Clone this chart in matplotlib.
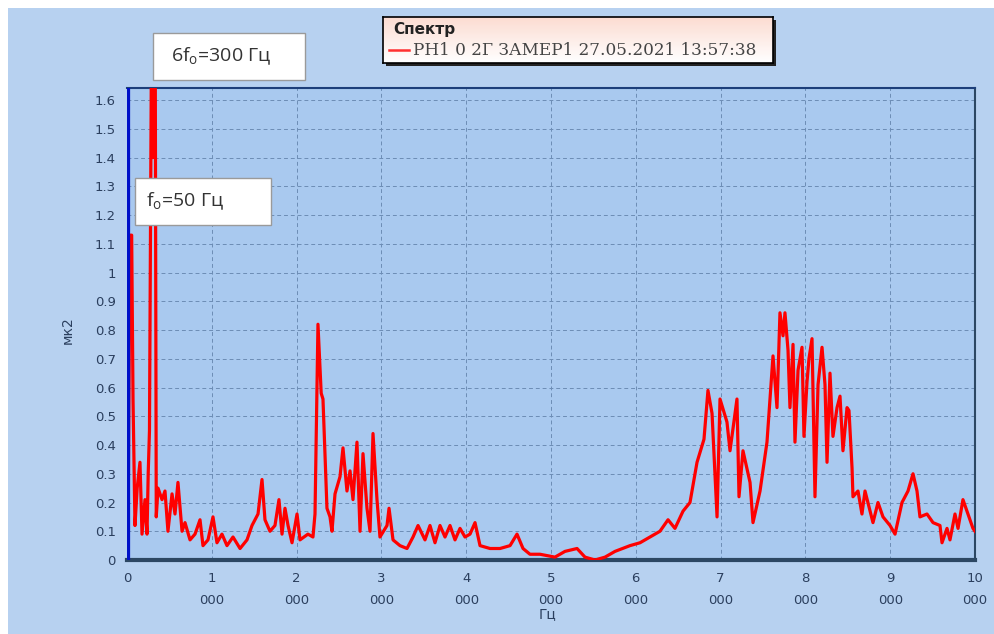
import matplotlib
matplotlib.use("Agg")

import numpy as np
import matplotlib.pyplot as plt
from matplotlib.patches import Rectangle

# spectrum (Hz, amplitude)
freqs = [0, 12, 35, 55, 71, 94, 120, 153, 177, 212, 236, 250, 265, 290, 305, 318, 332, 345,
         366, 413, 448, 483, 531, 566, 601, 649, 684, 743, 802, 861, 896, 955, 1014, 1061,
         1120, 1179, 1250, 1333, 1415, 1474, 1545, 1592, 1627, 1686, 1745, 1792, 1828, 1863,
         1899, 1946, 2005, 2040, 2134, 2193, 2217, 2252, 2290, 2311, 2358, 2394, 2417, 2453,
         2512, 2547, 2594, 2630, 2665, 2712, 2748, 2783, 2830, 2866, 2901, 2948, 2983, 3066,
         3090, 3137, 3219, 3302, 3373, 3432, 3514, 3573, 3632, 3691, 3750, 3809, 3868, 3927,
         3986, 4045, 4104, 4163, 4281, 4399, 4517, 4599, 4670, 4752, 4870, 5047, 5165, 5307,
         5401, 5519, 5637, 5755, 5932, 6050, 6167, 6285, 6380, 6462, 6557, 6639, 6722, 6804,
         6851, 6899, 6958, 6993, 7075, 7111, 7193, 7217, 7264, 7347, 7382, 7465, 7547, 7618,
         7665, 7700, 7736, 7759, 7795, 7818, 7854, 7877, 7913, 7960, 7983, 8019, 8042, 8078,
         8113, 8149, 8196, 8231, 8255, 8290, 8325, 8373, 8408, 8443, 8491, 8514, 8550, 8561,
         8620, 8667, 8703, 8762, 8797, 8856, 8915, 8998, 9057, 9139, 9210, 9269, 9316, 9351,
         9434, 9505, 9587, 9611, 9670, 9705, 9764, 9800, 9858, 9917, 9976, 10000]
amps = [0.0, 0.05, 1.13, 1.13, 0.56, 0.12, 0.25, 0.34, 0.09, 0.21, 0.09, 0.30, 0.45, 1.9, 1.4, 1.9, 1.9, 0.15,
        0.25, 0.21, 0.24, 0.10, 0.23, 0.16, 0.27, 0.10, 0.13, 0.07, 0.09, 0.14, 0.05, 0.07, 0.15, 0.06,
        0.09, 0.05, 0.08, 0.04, 0.07, 0.12, 0.16, 0.28, 0.14, 0.10, 0.12, 0.21, 0.09, 0.18,
        0.12, 0.06, 0.16, 0.07, 0.09, 0.08, 0.16, 0.82, 0.58, 0.56, 0.18, 0.15, 0.10, 0.23,
        0.29, 0.39, 0.24, 0.31, 0.21, 0.41, 0.10, 0.37, 0.18, 0.10, 0.44, 0.21, 0.08, 0.12,
        0.18, 0.07, 0.05, 0.04, 0.08, 0.12, 0.07, 0.12, 0.06, 0.12, 0.08, 0.12, 0.07, 0.11,
        0.08, 0.09, 0.13, 0.05, 0.04, 0.04, 0.05, 0.09, 0.04, 0.02, 0.02, 0.01, 0.03, 0.04,
        0.01, 0.00, 0.01, 0.03, 0.05, 0.06, 0.08, 0.10, 0.14, 0.11, 0.17, 0.20, 0.34, 0.42,
        0.59, 0.51, 0.15, 0.56, 0.48, 0.38, 0.56, 0.22, 0.38, 0.27, 0.13, 0.24, 0.41, 0.71,
        0.53, 0.86, 0.78, 0.86, 0.73, 0.53, 0.75, 0.41, 0.66, 0.74, 0.43, 0.62, 0.70, 0.77,
        0.22, 0.61, 0.74, 0.61, 0.34, 0.65, 0.43, 0.53, 0.57, 0.38, 0.53, 0.52, 0.32, 0.22,
        0.24, 0.16, 0.24, 0.17, 0.13, 0.20, 0.15, 0.12, 0.09, 0.20, 0.24, 0.30, 0.24, 0.15,
        0.16, 0.13, 0.12, 0.06, 0.11, 0.07, 0.16, 0.11, 0.21, 0.16, 0.11, 0.10]

yticks = [i / 10 for i in range(17)]
ylabels = ['0'] + ['%.1f' % v for v in yticks[1:10]] + ['1'] + ['%.1f' % v for v in yticks[11:]]
xticks = list(range(0, 10001, 1000))
xlabels = ['0'] + ['%d\n000' % (v // 1000) for v in xticks[1:]]

W, H = 994, 634
fig = plt.figure(figsize=(W / 100, H / 100), dpi=100)
fig.patch.set_facecolor('white')

def px_rect(x0, y0, x1, y1):
    # pixel box (top-left origin) -> figure fraction rect
    return [x0 / W, 1 - y1 / H, (x1 - x0) / W, (y1 - y0) / H]

# outer light blue background
bg = fig.add_axes(px_rect(8, 8, W, H))
bg.set_facecolor('#b7d1f0')
bg.set_xticks([]); bg.set_yticks([])
for s in bg.spines.values():
    s.set_visible(False)

ax = fig.add_axes(px_rect(127, 88, 975, 560))
ax.set_facecolor('#a9c9ef')
ax.plot(freqs, amps, color='#ff0000', lw=2.3, zorder=3)
ax.axvline(0, color='#0010c8', lw=4.5, zorder=4)
ax.set_xlim(0, 10000)
ax.set_ylim(0, 1.642)
ax.set_xticks(xticks)
ax.set_xticklabels(xlabels, fontsize=9.5, color='#2b3f5e', linespacing=1.8)
ax.set_yticks(yticks)
ax.set_yticklabels(ylabels, fontsize=9.5, color='#2b3f5e')
ax.tick_params(length=0, pad=8)
ax.tick_params(axis='x', pad=9)
ax.grid(True, color='#6d8db5', lw=0.7, ls=(0, (4, 3)))
ax.spines['bottom'].set_color('#2c4763'); ax.spines['bottom'].set_linewidth(3)
ax.spines['right'].set_color('#2c4763'); ax.spines['right'].set_linewidth(1.5)
ax.spines['top'].set_color('#1d3f7a'); ax.spines['top'].set_linewidth(1.5)
ax.spines['left'].set_visible(False)

fig.text(68 / W, 1 - 330 / H, 'мк2', rotation=90, ha='center', va='center',
         fontsize=10, color='#2b3f5e')
fig.text(548 / W, 1 - 614 / H, 'Гц', ha='center', va='center', fontsize=10, color='#2b3f5e')

# annotation boxes
for (x0, y0, x1, y1), tx, label in [((153, 33, 305, 80), 171, r'6f$_\mathregular{o}$=300 Гц'),
                                    ((135, 178, 271, 225), 146, r'f$_\mathregular{o}$=50 Гц')]:
    fig.patches.append(Rectangle((x0 / W, 1 - y1 / H), (x1 - x0) / W, (y1 - y0) / H,
                                 transform=fig.transFigure, fc='white', ec='#9a9a9a',
                                 lw=1, zorder=5))
    fig.text(tx / W, 1 - (y0 + y1) / 2 / H, label, ha='left', va='center', fontsize=14,
             color='#333333', family='Open Sans', zorder=6)

# legend box with shadow and pink gradient
lx0, ly0, lw_, lh = 383, 17, 390, 46
fig.patches.append(Rectangle(((lx0 + 3) / W, 1 - (ly0 + lh + 3) / H), lw_ / W, lh / H,
                             transform=fig.transFigure, fc='#222222', ec='none', zorder=5))
lg = fig.add_axes(px_rect(lx0, ly0, lx0 + lw_, ly0 + lh), zorder=6)
grad = np.linspace(0, 1, 50).reshape(-1, 1)
lg.imshow(grad, aspect='auto', cmap=matplotlib.colors.LinearSegmentedColormap.from_list(
    'pk', ['#fcdcd2', '#ffffff']), extent=[0, 1, 0, 1], origin='upper')
lg.set_xlim(0, 1); lg.set_ylim(0, 1)
lg.set_xticks([]); lg.set_yticks([])
for s in lg.spines.values():
    s.set_color('black'); s.set_linewidth(1.2)
lg.text(10 / lw_, 0.72, 'Спектр', fontsize=11, fontweight='bold', va='center',
        color='#222222', family='DejaVu Sans')
lg.plot([6 / lw_, 26 / lw_], [0.28, 0.28], color='#ff3030', lw=1.8)
lg.text(30 / lw_, 0.28, 'РН1 0 2Г ЗАМЕР1 27.05.2021 13:57:38', fontsize=12.2, va='center',
        color='#444444', family='DejaVu Serif')

plt.savefig('out.png', dpi=100, facecolor=fig.get_facecolor())
